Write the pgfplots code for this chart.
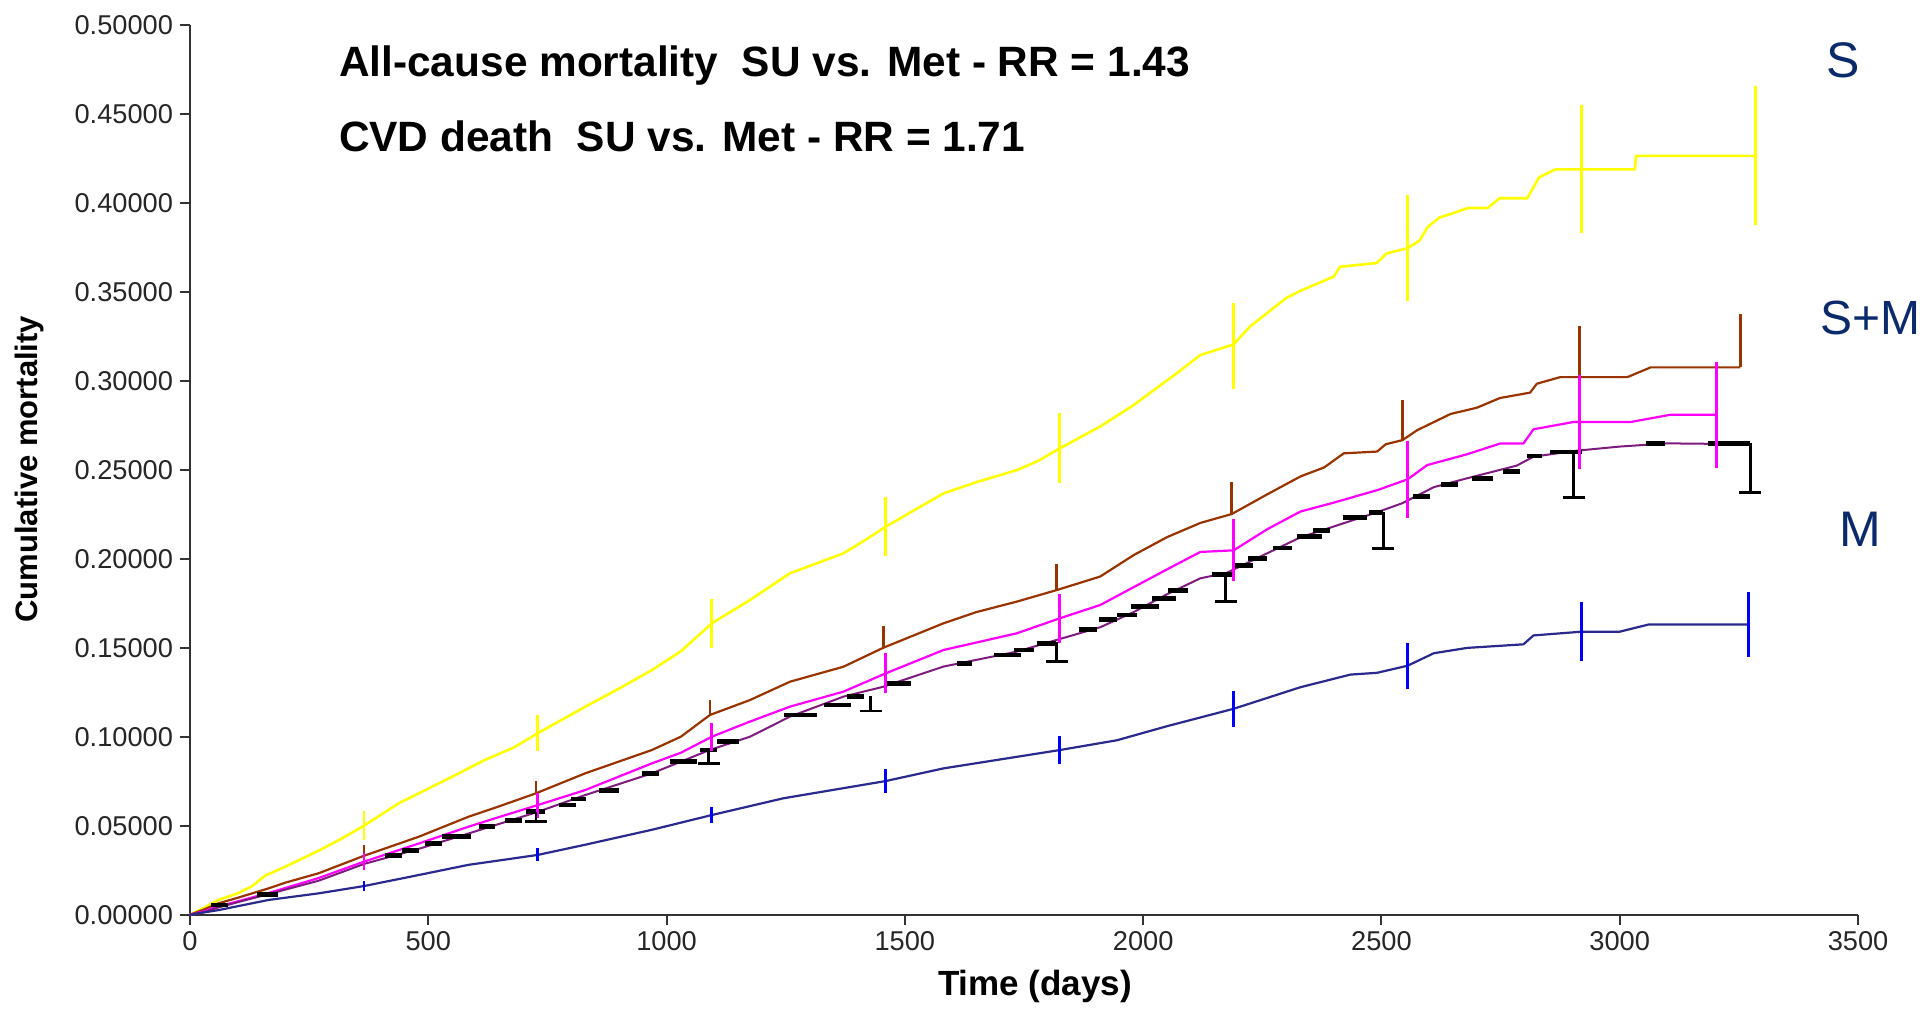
\documentclass[border=0pt]{standalone}
\usepackage{pgfplots}
\pgfplotsset{compat=1.18}
\usepackage{fontspec}
\setmainfont{Liberation Sans}

\definecolor{cS}{HTML}{FFFF00}
\definecolor{cSM}{HTML}{993300}
\definecolor{cMag}{HTML}{FF00FF}
\definecolor{cPur}{HTML}{7F1A7F}
\definecolor{cNavy}{HTML}{2A2A8E}
\definecolor{cBlue}{HTML}{0000FF}
\definecolor{cLab}{HTML}{0B2A6B}
\definecolor{cAx}{HTML}{333333}

\begin{document}
\begin{tikzpicture}
\path[use as bounding box] (-95pt,-46.65pt) rectangle (865pt,457.35pt);
\begin{axis}[
  scale only axis, width=834pt, height=445pt,
  xmin=0, xmax=3500, ymin=0, ymax=0.5,
  axis x line*=bottom, axis y line*=left,
  axis line style={line width=1pt, color=cAx},
  xtick={0,500,1000,1500,2000,2500,3000,3500},
  ytick={0,0.05,0.1,0.15,0.2,0.25,0.3,0.35,0.4,0.45,0.5},
  tick align=outside, major tick length=5pt,
  tick style={line width=1pt, color=cAx},
  /pgf/number format/assume math mode=true,
  yticklabel style={/pgf/number format/.cd, fixed, fixed zerofill, precision=5},
  xticklabel style={/pgf/number format/.cd, fixed, precision=0, 1000 sep={}},
  tick label style={font=\fontsize{13.6}{13.6}\selectfont, color=black!85},
  xlabel={Time (days)},
  xlabel style={at={(axis description cs:0.5066,0)}, anchor=base, yshift=-40.4pt,
    font=\bfseries\fontsize{17.5}{17.5}\selectfont},
  ylabel={Cumulative mortality},
  ylabel style={at={(axis description cs:-0.0962,0.5006)}, anchor=center,
    font=\bfseries\fontsize{15.5}{15.5}\selectfont},
  clip=false,
  line join=round,
  bar data/.style={forget plot, draw=none, mark=none},
]

% ---- cumulative mortality curves ----
% S (sulphonylurea)
\addplot[cS, line width=1.3pt, mark=none] coordinates {
(0,0) (30,0.004) (60,0.0083) (100,0.012) (130,0.016) (158,0.022) (200,0.027)
(270,0.036) (320,0.043) (365,0.050) (438,0.0626) (550,0.0775) (619,0.087)
(680,0.094) (730,0.102) (829,0.1168) (900,0.127) (969,0.1374) (1030,0.148)
(1095,0.1637) (1175,0.1768) (1259,0.1918) (1371,0.203) (1420,0.211)
(1460,0.218) (1581,0.2367) (1650,0.243) (1735,0.2498) (1780,0.255)
(1825,0.262) (1910,0.2743) (1980,0.2863) (2071,0.3043) (2120,0.3144)
(2190,0.3204) (2224,0.3304) (2301,0.3466) (2330,0.3505) (2400,0.3585)
(2413,0.3640) (2490,0.3661) (2511,0.3715) (2555,0.3745) (2580,0.3787)
(2597,0.3863) (2622,0.3917) (2647,0.3938) (2681,0.397) (2723,0.397)
(2748,0.4025) (2806,0.4025) (2831,0.4143) (2865,0.4187) (3032,0.4187)
(3034,0.4263) (3285,0.4263)
};
% S+M, upper
\addplot[cSM, line width=1.1pt, mark=none] coordinates {
(0,0) (30,0.003) (60,0.0064) (100,0.0095) (165,0.0148) (200,0.018)
(270,0.0233) (365,0.0331) (480,0.0438) (584,0.055) (650,0.061) (726,0.0682)
(829,0.0794) (969,0.0925) (1030,0.100) (1091,0.1122) (1175,0.1206)
(1259,0.1309) (1371,0.1393) (1455,0.150) (1581,0.1637) (1650,0.170)
(1735,0.1759) (1819,0.1824) (1910,0.190) (1980,0.202) (2050,0.2121)
(2120,0.2201) (2186,0.2251) (2260,0.2361) (2330,0.2462) (2380,0.2513)
(2421,0.2592) (2491,0.2602) (2509,0.2643) (2544,0.2666) (2575,0.2722)
(2645,0.2813) (2700,0.2848) (2749,0.2903) (2812,0.2933) (2826,0.2983)
(2875,0.302) (3016,0.302) (3065,0.3075) (3253,0.3075)
};
% S+M, lower
\addplot[cMag, line width=1.1pt, mark=none] coordinates {
(0,0) (30,0.002) (60,0.0047) (100,0.0075) (165,0.0122) (270,0.0206)
(365,0.0298) (480,0.040) (584,0.0494) (650,0.0550) (730,0.0616) (829,0.070)
(969,0.085) (1030,0.091) (1095,0.100) (1175,0.1085) (1259,0.1169)
(1371,0.1253) (1460,0.1356) (1581,0.1487) (1735,0.1581) (1825,0.1665)
(1910,0.174) (1980,0.184) (2050,0.194) (2120,0.2038) (2190,0.2047)
(2260,0.2165) (2330,0.2265) (2400,0.2315) (2491,0.2385) (2555,0.2446)
(2596,0.2526) (2680,0.2587) (2749,0.2647) (2798,0.2647) (2819,0.2727)
(2903,0.2768) (3023,0.2768) (3107,0.2809) (3203,0.2809)
};
% M
\addplot[cPur, line width=1pt, mark=none] coordinates {
(0,0) (30,0.0015) (60,0.0041) (100,0.007) (165,0.0116) (270,0.0191)
(365,0.0285) (480,0.037) (584,0.0456) (730,0.0578) (829,0.0672)
(969,0.0794) (1090,0.0925) (1175,0.100) (1259,0.1113) (1371,0.1225)
(1455,0.1281) (1581,0.1394) (1735,0.1478) (1819,0.1544) (1910,0.1615)
(1980,0.170) (2050,0.180) (2120,0.189) (2175,0.192) (2260,0.203)
(2330,0.212) (2400,0.2181) (2491,0.2261) (2544,0.2312) (2610,0.2402)
(2680,0.2452) (2784,0.2523) (2819,0.2573) (2903,0.2605) (3000,0.2630)
(3100,0.2648) (3274,0.2643)
};
% reference group
\addplot[cNavy, line width=1.1pt, mark=none] coordinates {
(0,0) (60,0.0026) (165,0.0083) (270,0.012) (365,0.0161) (480,0.0223)
(584,0.028) (730,0.0336) (829,0.0393) (969,0.0477) (1095,0.0560)
(1245,0.0654) (1460,0.0751) (1581,0.0822) (1825,0.0925) (1945,0.098)
(2050,0.1059) (2190,0.1157) (2330,0.1278) (2435,0.1349) (2491,0.1359)
(2555,0.1399) (2610,0.1469) (2680,0.1499) (2798,0.1519) (2819,0.1569)
(2920,0.159) (3000,0.159) (3060,0.163) (3270,0.163)
};

% ---- step plateaus of the M estimate (black) ----
\addplot[bar data,
  error bars/.cd, x dir=plus, x explicit, error mark=none,
  error bar style={draw=black, line width=2.4pt}] coordinates {
(45,0.0055) +- (35,0) (140,0.0115) +- (45,0)
(409,0.0331) +- (36,0) (445,0.0359) +- (35,0) (494,0.040) +- (35,0)
(529,0.0438) +- (60,0) (606,0.0494) +- (35,0) (662,0.0531) +- (35,0)
(705,0.0578) +- (40,0) (774,0.0616) +- (35,0) (800,0.065) +- (30,0)
(858,0.070) +- (42,0) (949,0.0794) +- (35,0) (1008,0.0859) +- (56,0)
(1071,0.0925) +- (35,0) (1106,0.0972) +- (45,0) (1246,0.1122) +- (70,0)
(1330,0.1178) +- (56,0) (1379,0.1228) +- (35,0) (1456,0.130) +- (56,0)
(1610,0.1411) +- (31,0) (1687,0.1459) +- (56,0) (1729,0.1487) +- (42,0)
(1778,0.1525) +- (39,0) (1866,0.1603) +- (38,0) (1908,0.1659) +- (38,0)
(1946,0.1684) +- (42,0) (1974,0.1731) +- (59,0) (2019,0.1778) +- (50,0)
(2053,0.1821) +- (42,0) (2144,0.191) +- (42,0) (2186,0.196) +- (45,0)
(2220,0.200) +- (39,0) (2273,0.206) +- (39,0) (2322,0.2126) +- (53,0)
(2357,0.216) +- (35,0) (2420,0.2231) +- (49,0) (2474,0.2261) +- (30,0)
(2567,0.2351) +- (35,0) (2626,0.2418) +- (35,0) (2689,0.2452) +- (46,0)
(2756,0.2492) +- (35,0) (2805,0.2577) +- (31,0) (2854,0.2599) +- (66,0)
(3055,0.2648) +- (40,0) (3185,0.2648) +- (89,0)
};

% ---- confidence bars ----
\addplot[bar data,
  error bars/.cd, y dir=both, y explicit, error mark=none,
  error bar style={draw=cS, line width=1.4pt}] coordinates {
(365,0.050) +- (0,0.008) (730,0.102) +- (0,0.0103) (1095,0.1637) +- (0,0.0136)
(1460,0.218) +- (0,0.0167) (1825,0.262) +- (0,0.0197) (2190,0.3194) +- (0,0.024)
(2555,0.3745) +- (0,0.0296) (2920,0.4187) +- (0,0.036) (3285,0.4263) +- (0,0.039)
};
\addplot[bar data,
  error bars/.cd, y dir=plus, y explicit, error mark=none,
  error bar style={draw=cSM, line width=1.4pt}] coordinates {
(365,0.0331) +- (0,0.006) (726,0.0682) +- (0,0.0071) (1091,0.1122) +- (0,0.0084)
(1455,0.150) +- (0,0.012) (1819,0.1824) +- (0,0.0144) (2186,0.2251) +- (0,0.018)
(2544,0.2666) +- (0,0.0226) (2915,0.302) +- (0,0.029) (3253,0.3075) +- (0,0.030)
};
\addplot[bar data,
  error bars/.cd, y dir=both, y explicit, error mark=none,
  error bar style={draw=cMag, line width=1.4pt}] coordinates {
(365,0.0298) +- (0,0.0047) (730,0.0616) +- (0,0.007) (1095,0.100) +- (0,0.0078)
(1460,0.1356) +- (0,0.0113) (1825,0.1665) +- (0,0.0136) (2190,0.2047) +- (0,0.0175)
(2555,0.2446) +- (0,0.0215) (2915,0.2768) +- (0,0.0265) (3203,0.2809) +- (0,0.0297)
};
\addplot[bar data,
  error bars/.cd, y dir=minus, y explicit,
  error mark options={draw=black, line width=1.4pt, mark size=5.5pt, rotate=90},
  error bar style={draw=black, line width=1.4pt}] coordinates {
(726,0.0578) +- (0,0.0056) (1088,0.0925) +- (0,0.0075) (1428,0.1228) +- (0,0.0084)
(1819,0.1533) +- (0,0.0112) (2173,0.191) +- (0,0.015) (2504,0.2261) +- (0,0.0202)
(2903,0.2603) +- (0,0.0257) (3274,0.2648) +- (0,0.0275)
};
\addplot[bar data,
  error bars/.cd, y dir=both, y explicit, error mark=none,
  error bar style={draw=cBlue, line width=1.4pt}] coordinates {
(365,0.0161) +- (0,0.003) (730,0.0336) +- (0,0.0037) (1095,0.0560) +- (0,0.0045)
(1460,0.0751) +- (0,0.007) (1825,0.0925) +- (0,0.008) (2190,0.1157) +- (0,0.010)
(2555,0.1399) +- (0,0.013) (2920,0.159) +- (0,0.0165) (3270,0.163) +- (0,0.0185)
};

% ---- annotations ----
\node[anchor=base west, font=\bfseries\fontsize{21.2}{21.2}\selectfont]
  at (axis cs:298,0.4711) {All-cause mortality\ \ SU vs. Met - RR = 1.43};
\node[anchor=base west, font=\bfseries\fontsize{21.2}{21.2}\selectfont]
  at (axis cs:298,0.4285) {CVD death\ \ SU vs. Met - RR = 1.71};
\node[anchor=base west, text=cLab, font=\fontsize{25}{25}\selectfont, inner sep=0pt]
  at (axis cs:3433,0.4705) {S};
\node[anchor=base west, text=cLab, font=\fontsize{24}{24}\selectfont, inner sep=0pt]
  at (axis cs:3420,0.326) {S+M};
\node[anchor=base west, text=cLab, font=\fontsize{25}{25}\selectfont, inner sep=0pt]
  at (axis cs:3461,0.207) {M};
\end{axis}
\end{tikzpicture}
\end{document}
